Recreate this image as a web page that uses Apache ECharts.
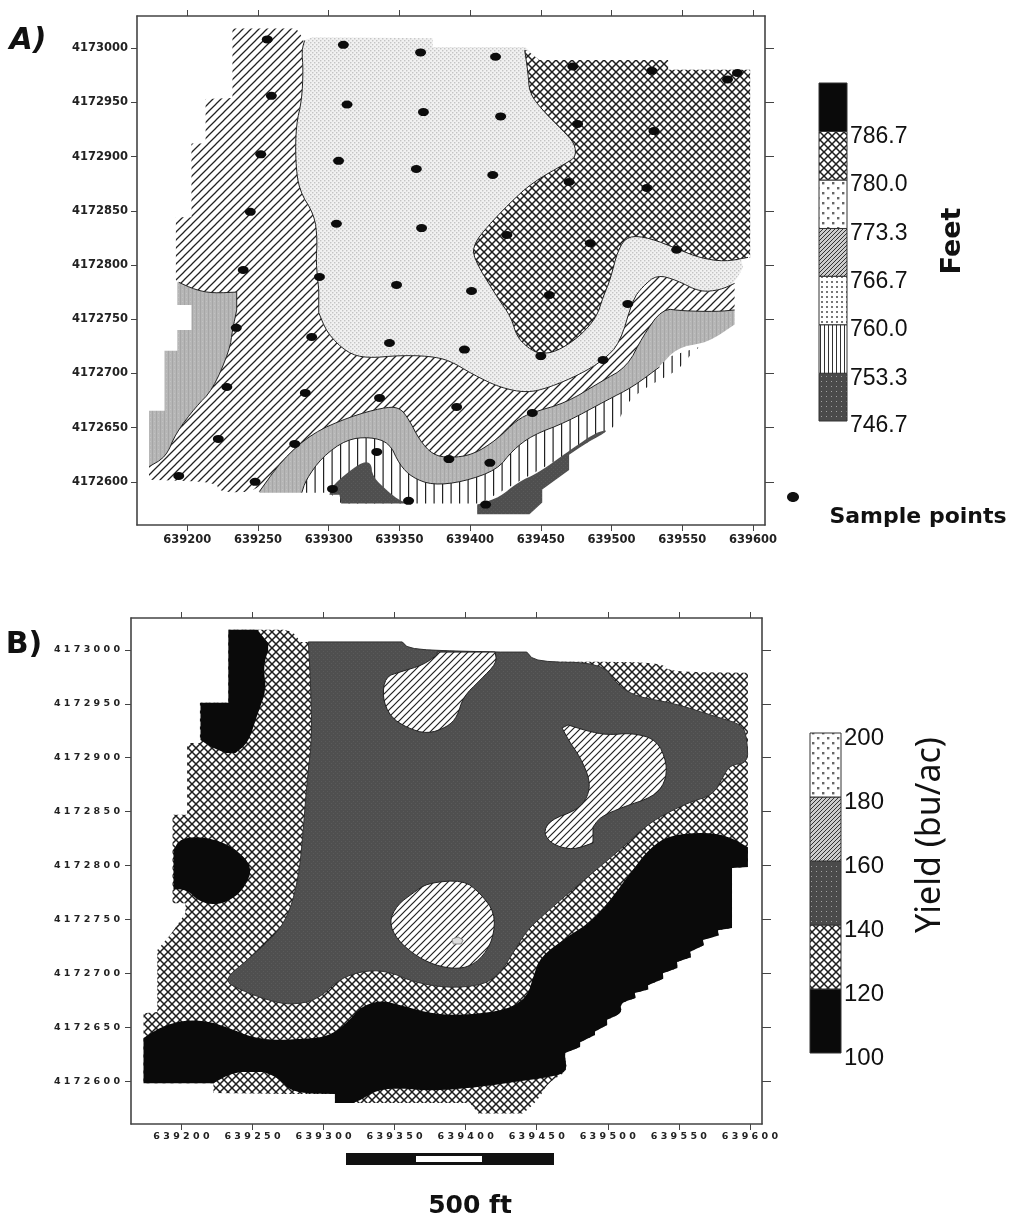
<!DOCTYPE html>
<html>
<head>
<meta charset="utf-8">
<style>html,body{margin:0;padding:0;background:#fff}#c{width:1011px;height:1218px}</style>
<script src="https://cdn.jsdelivr.net/npm/echarts@6/dist/echarts.min.js"></script>
</head>
<body>
<div id="c"></div>
<script>
// ---- axis values (UTM metres); all outlines below are offsets from these bases
const EAST0 = 639000, NORTH0 = 4172000;
const eastTicks = [639200,639250,639300,639350,639400,639450,639500,639550,639600];
const northTicks = [4172600,4172650,4172700,4172750,4172800,4172850,4172900,4172950,4173000];
const eastRange = [639164.5, 639608.5], northRange = [4172560.2, 4173029.6];

// ---- Panel A: elevation contours (easting, northing offsets)
const lineDots = [[277,1018],[283,1007],[281,998],[282,980],[281,952],[277,929],[276.5,897],[279,869],[290,846],[292,823],[291,803],[293,777],[293,756],[299,737],[313,719],[327,714],[350,716.6],[371,716],[385.5,712],[402,699],[421,687],[440,682],[456,687],[477.5,699],[494,712],[506,728],[515,768],[522,780],[532,791],[546,786],[562.5,775],[577,777],[587,783]];
const lineCross = [[438.6,998],[441,977],[442,958.5],[451,943],[465.5,924],[474,912],[474.8,899.5],[468,894],[444,876],[428,857],[412,835],[403,820],[402,807],[419,770.5],[429,752],[433,734],[441,723.5],[449,718],[461,720],[477.5,734],[489.5,752],[494,770.5],[499,786],[504.5,814],[511.5,827],[527,825],[548,814],[562.5,806.5],[580,803],[596.5,807]];
const lineDiagBottom = [[251,591],[267,620],[288.5,645],[315,660],[338,668.4],[350,669],[357,657],[364,639],[373.5,625],[385.5,622],[402,625],[419,639],[433,657],[444,664],[468,673],[492,692],[511,706],[522,734],[536,760],[550.5,757.6],[574.5,757],[587,758.5]];
const lineLeftGray = [[194,784],[206,777],[218,774],[235,775],[235,758.5],[232,740],[230,721.5],[218,685],[206,669],[192,645],[185,623],[173,614]];
const lineGrayBottom = [[534,706],[515,687.5],[497,675.5],[468,655],[444,643],[430,629],[419,611],[395,600],[373.5,597],[359,604],[350,616],[343,636],[329,641.5],[312.5,639],[295.5,623],[284,602],[281,590]];
const diagLeftStairs = [[192,786],[192,844],[203,844],[203,912],[213,912],[213,953],[232,954],[232,1018]];
const diagBottomStairs = [[222.7,590],[220.5,600],[173,602]];
const dotsEnvelope = [[596.5,807],[527,952],[463,970],[439,1001],[373.5,1001],[373.5,1009],[288.5,1010]];
const crossEnvelope = [[598,807],[598,980],[540,980],[540,989],[449,989],[440,998]];
const grayLeftStairs = [[173,665.5],[184,665.5],[184,721],[193,721],[193,740],[203,740],[203,763],[193,763],[193,784]];
const grayRightEnd = [[587,745],[574.5,734],[565,728],[546,723.5]];
const verticalOutline = [[281,590],[300.5,590],[309,580],[395,580],[407,580],[499,648],[504.5,655],[511,673],[522,685],[534,694],[547,703],[559,722],[565,726],[492,694],[350,655],[307.6,648],[276,620]];
const darkWest = [[302.7,597],[322,617.5],[330,618.5],[331,604.5],[343,590],[350,583],[357,580],[309,580],[307.6,588],[300.5,588]];
const darkEast = [[405,579],[405,570],[442,570],[451,581],[451,593],[470,611],[470,625],[482.5,636],[499,648],[489.5,646],[472.6,631],[463,622],[449,609],[433,599],[421,586],[409,580.6]];
const samplePoints = [[256.6,1008],[310.4,1003],[365,996],[418,992],[472.6,983],[528.5,979],[582,971],[589,977],
 [259.5,956],[313,948],[367,941],[421.6,937],[476,930],[530,923.5],
 [252,902],[307,896],[362,888.5],[416,883],[470,876.5],[525,871],
 [244.6,849],[305.5,838],[365.7,834],[426,827.6],[485,820],[546,814],
 [239.6,795.4],[293.5,789],[348,781.6],[401,776],[456,772.3],[511.5,764],
 [234.7,742],[288,733.6],[343,728],[396,722],[450,716],[494,712.4],
 [228,687.5],[283.5,682],[336,677.4],[390.5,669],[444,663.6],
 [222,639.6],[276,635],[334,627.6],[385,621],[414,617.5],
 [194,605.5],[248,600],[302.7,593.5],[356.5,582.5],[411,579]];

// ---- Panel B: yield zones
const sawEdge = [[587.4,742],[577.5,740],[578,735],[567,731],[567.5,726],[558,720],[558.5,715],[548.7,710.5],[549,705],[538.8,700],[539,695],[528.3,689],[528.5,685],[519,681.7],[519.5,677],[508.6,672.4],[510,663],[499.5,657],[499.5,652],[491,646],[491,642.7],[480.5,636],[480.5,631.6],[470,626],[470,622],[471.4,608.4]];
const yieldEnvelopeTop = [[233,1018.6],[271.7,1018.6],[278.7,1016.7],[283.7,1007.4],[355.4,1007.4],[361,1000],[423,998],[443,998],[449,989],[494.6,989],[539,988],[542.4,979.6],[598.6,978.7],[598.6,798.6],[587.4,797.7]];
const yieldEnvelopeBottom = [[458,599],[451,582.4],[440.4,570],[408.8,570],[405.3,576],[403,579.6],[325.8,579.6],[308,579.6],[308,588],[276.6,588],[222.5,589],[222.5,598],[173.3,598],[173.3,663],[183,664],[183,721.6],[193.7,738],[202.8,756],[202.8,765],[193.7,765],[193.7,847],[204,847],[204,913.7],[213,913.7],[213,951],[233,951]];
const yieldMidZone = [[289.3,1007.4],[290.7,975],[292,919.3],[288.6,882],[285,821],[282.3,789.3],[276.6,758.7],[267.5,737.4],[246.4,712.3],[229.5,693.8],[241.5,684.5],[260.5,675.2],[276.6,670.6],[295.6,675.2],[311.8,695.6],[330.8,703],[347,701.2],[363,692],[387,686.3],[412.3,689],[424.3,700.3],[433.4,719],[443.2,740.2],[457.3,757],[468.5,770],[487.5,791.2],[510.7,817],[529.7,840.4],[555.7,858],[574,865.4],[581,882],[586,893.3],[598.6,895],[598,916.5],[595,930.4],[576.8,937.8],[545.9,950.8],[520.6,956.4],[506.5,967.5],[496,988],[449,989],[443,998],[424.3,998],[361,1000],[355.4,1007.4]];
const islandNorth = [[380,998],[420.7,998],[422,988],[410.2,972],[398.2,956.4],[394,937.8],[387,928.5],[373,922],[358.9,927.6],[347,937.8],[341.4,955.5],[343.4,975],[354,979.6],[370,986],[380,995.4]];
const islandEast = [[467.8,927.6],[472,930.4],[485.4,924.8],[499.5,921],[517.8,923],[534.6,916.5],[541.7,895],[540.3,876.6],[531.8,863.6],[510.7,854.3],[494.6,845],[489.6,835.7],[489.6,821],[475.6,814.4],[461.5,819],[454.5,830],[459.4,842.2],[478.4,851.5],[486,863.6],[487.5,879.4],[480.5,900.7],[473.5,913.7]];
const islandSouth = [[373,783.8],[398.2,786.6],[410.2,774.5],[420.7,756],[419.3,731],[410.2,712.3],[398.2,704],[382,705.8],[366,715],[351.8,731],[346,747.6],[351.8,763.4],[363,774.5]];
const islandHole = [[390.5,731.8],[394.7,733.7],[398.2,730.9],[396.8,727.2],[391.2,727.2]];
const blackNorth = [[233,1018.6],[253.4,1018.6],[261,1006.5],[261,1000],[257.6,984],[259.8,963],[253.4,940],[247,913.7],[238,904.4],[231,904.4],[220.4,910],[213.4,916.5],[213.4,951],[233,951]];
const blackWest = [[194.4,814.4],[199.3,825.5],[218.3,826.5],[236.6,817.2],[250.6,798.6],[243.6,777.3],[232.3,766],[220.4,763.4],[211.2,768],[204.2,777.3],[194.4,778.2]];
const blackBandTop = [[173.3,640],[185.2,650],[201.4,656.6],[218.3,655.7],[232.3,650],[248.5,641],[264.7,638],[283.7,639],[302.6,641],[316.7,654],[325.8,668.7],[340,675],[354,670.6],[377,662],[401,661.3],[429.2,666],[443.2,678],[447.5,696.5],[452.4,715],[471.4,733.7],[489.6,749.4],[503,770],[515.7,793],[529.7,816.3],[543.8,828.3],[569.8,831],[586,826.5],[598.6,817],[598.6,798.6],[587.4,797.7]];
const blackBandBottom = [[459.4,603.7],[433.4,599],[410.2,594.5],[377,590.8],[354,593.5],[337.8,591.7],[325.8,582.4],[321,579.6],[308,579.6],[308,588],[278,589],[267.5,603.7],[257.6,608.4],[241.5,608.4],[232.3,605.6],[222.5,598],[173.3,598]];

// ---- legends
const feetBreaks = [746.7,753.3,760.0,766.7,773.3,780.0,786.7,793.4];
const feetLabels = [746.7,753.3,760.0,766.7,773.3,780.0,786.7];
const yieldBreaks = [100,120,140,160,180,200];

// ---- hatch fills
function tile(w,h,draw){const c=document.createElement('canvas');c.width=w;c.height=h;const g=c.getContext('2d');draw(g,w,h);return {image:c,repeat:'repeat'};}
function hatchUp(g,s){g.beginPath();g.moveTo(-1,1);g.lineTo(1,-1);g.moveTo(0,s);g.lineTo(s,0);g.moveTo(s-1,s+1);g.lineTo(s+1,s-1);g.stroke();}
function hatchDown(g,s){g.beginPath();g.moveTo(-1,s-1);g.lineTo(1,s+1);g.moveTo(0,0);g.lineTo(s,s);g.moveTo(s-1,-1);g.lineTo(s+1,1);g.stroke();}
const fillCross = tile(8,8,(g)=>{g.fillStyle='#fff';g.fillRect(0,0,8,8);g.strokeStyle='#1e1e1e';g.lineWidth=1.5;hatchUp(g,8);hatchDown(g,8);});
const fillDiag = tile(8,8,(g)=>{g.fillStyle='#fff';g.fillRect(0,0,8,8);g.strokeStyle='#222';g.lineWidth=1.25;hatchUp(g,8);});
const fillDiagB = tile(7,7,(g)=>{g.fillStyle='#fff';g.fillRect(0,0,7,7);g.strokeStyle='#222';g.lineWidth=1.2;hatchUp(g,7);});
const fillLight = tile(4,4,(g)=>{g.fillStyle='#f1f1f1';g.fillRect(0,0,4,4);g.fillStyle='#c4c4c4';g.fillRect(0,0,1.4,1.4);g.fillRect(2,2,1.4,1.4);});
const fillGray = tile(4,4,(g)=>{g.fillStyle='#b6b6b6';g.fillRect(0,0,4,4);g.fillStyle='#a6a6a6';g.fillRect(0,0,1,4);g.fillStyle='#c2c2c2';g.fillRect(2,1,1,1);});
const fillVert = tile(17,4,(g)=>{g.fillStyle='#fff';g.fillRect(0,0,17,4);g.fillStyle='#222';g.fillRect(0,0,1.2,4);g.fillRect(8.5,0,1.2,4);});
const fillDark = tile(4,4,(g)=>{g.fillStyle='#4f4f4f';g.fillRect(0,0,4,4);g.fillStyle='#5a5a5a';g.fillRect(1,1,1,1);g.fillRect(3,3,1,1);});
const fillBlack = '#0a0a0a';
const legSparse = tile(10,10,(g)=>{g.fillStyle='#fff';g.fillRect(0,0,10,10);g.fillStyle='#666';g.fillRect(2,2,2.4,2.4);g.fillRect(7,7,2.4,2.4);});
const legDiag = tile(4,4,(g)=>{g.fillStyle='#ccc';g.fillRect(0,0,4,4);g.strokeStyle='#333';g.lineWidth=1;hatchUp(g,4);});
const legDots = tile(5,5,(g)=>{g.fillStyle='#fff';g.fillRect(0,0,5,5);g.fillStyle='#777';g.fillRect(1,1,2,2);});
const legVert = tile(4,4,(g)=>{g.fillStyle='#fff';g.fillRect(0,0,4,4);g.fillStyle='#333';g.fillRect(0,0,1,4);});
const legDark = tile(5,5,(g)=>{g.fillStyle='#4a4a4a';g.fillRect(0,0,5,5);g.fillStyle='#a0a0a0';g.fillRect(1,1,1,1);});
const feetFills = [legDark,legVert,legDots,legDiag,legSparse,fillCross,fillBlack];
const yieldFills = [fillBlack,fillCross,legDark,legDiag,legSparse];

// ---- helpers
const AX_A = 0, AX_B = 2, AX_LEG_A = 4, AX_LEG_B = 5;
const toMap = pts => pts.map(p => [EAST0 + p[0], NORTH0 + p[1]]);
const rev = a => a.slice().reverse();
// rounds the drawn outline in screen space; stair steps and saw teeth stay sharp
function soften(raw, closed){
  const n = raw.length, near = (a,b)=>Math.hypot(a[0]-b[0],a[1]-b[1]);
  const aligned = (a,b)=>Math.abs(a[0]-b[0])<0.3||Math.abs(a[1]-b[1])<0.3;
  let pts = raw.map((p,i)=>{
    if(!closed&&(i===0||i===n-1)) return {p,s:true};
    const a=raw[(i-1+n)%n], b=raw[(i+1)%n];
    return {p,s:aligned(a,p)||aligned(p,b)||near(a,p)<9||near(p,b)<9};
  });
  for(let k=0;k<2;k++){
    const out=[], m=pts.length;
    pts.forEach((v,i)=>{
      if(v.s){out.push(v);return;}
      const a=pts[(i-1+m)%m].p, b=pts[(i+1)%m].p, p=v.p;
      out.push({p:[p[0]+(a[0]-p[0])*.25,p[1]+(a[1]-p[1])*.25],s:false});
      out.push({p:[p[0]+(b[0]-p[0])*.25,p[1]+(b[1]-p[1])*.25],s:false});
    });
    pts=out;
  }
  return pts.map(v=>v.p);
}
function poly(pts, ax, fill, stroke){
  const d = toMap(pts);
  return {type:'custom', xAxisIndex:ax, yAxisIndex:ax, data:d, encode:{x:0,y:1}, silent:true, animation:false,
    renderItem:(p,api)=> p.dataIndex!==0 ? null : {type:'polygon', shape:{points:soften(d.map(q=>api.coord(q)),true)},
      style:{fill:fill, stroke:stroke||null, lineWidth:stroke?1:0}}};
}
function contour(pts, ax){
  const d = toMap(pts);
  return {type:'custom', xAxisIndex:ax, yAxisIndex:ax, data:d, encode:{x:0,y:1}, silent:true, animation:false,
    renderItem:(p,api)=> p.dataIndex!==0 ? null : {type:'polyline', shape:{points:soften(d.map(q=>api.coord(q)),false)},
      style:{fill:null, stroke:'#222', lineWidth:1}}};
}
function legendBands(breaks, fills, ax){
  const d = fills.map((f,i)=>[breaks[i],breaks[i+1],i]);
  return {type:'custom', xAxisIndex:ax, yAxisIndex:ax, data:d, encode:{y:[0,1]}, silent:true, animation:false,
    renderItem:(p,api)=>{
      const a=api.coord([0,api.value(1)]), b=api.coord([1,api.value(0)]);
      return {type:'rect', shape:{x:a[0],y:a[1],width:b[0]-a[0],height:b[1]-a[1]},
        style:{fill:fills[api.value(2)], stroke:'#333', lineWidth:1}};
    }};
}
const tickFont = {fontFamily:'DejaVu Sans', fontWeight:'bold', fontSize:11.5, color:'#222', formatter:v=>String(v)};
const spaced = v => String(v).split('').join(' ');
const tickFontB = {fontFamily:'DejaVu Sans', fontWeight:'bold', fontSize:9.5, color:'#222', formatter:spaced};
const line = {show:true, onZero:false, lineStyle:{color:'#444', width:1.6}};
function xPair(g, font, margin){
  return [
    {type:'value', gridIndex:g, position:'bottom', min:eastRange[0], max:eastRange[1], axisLine:line, splitLine:{show:false},
      axisTick:{show:true, length:6, customValues:eastTicks, lineStyle:{color:'#444'}},
      axisLabel:Object.assign({show:true, margin:margin, customValues:eastTicks, hideOverlap:false}, font)},
    {type:'value', gridIndex:g, position:'top', min:eastRange[0], max:eastRange[1], axisLine:line, splitLine:{show:false},
      axisTick:{show:true, length:6, customValues:eastTicks, lineStyle:{color:'#444'}}, axisLabel:{show:false}}
  ];
}
function yPair(g, font, margin){
  return [
    {type:'value', gridIndex:g, position:'left', min:northRange[0], max:northRange[1], axisLine:line, splitLine:{show:false},
      axisTick:{show:true, length:6, customValues:northTicks, lineStyle:{color:'#444'}},
      axisLabel:Object.assign({show:true, margin:margin, customValues:northTicks}, font)},
    {type:'value', gridIndex:g, position:'right', min:northRange[0], max:northRange[1], axisLine:line, splitLine:{show:false},
      axisTick:{show:true, length:9, customValues:northTicks, lineStyle:{color:'#444'}}, axisLabel:{show:false}}
  ];
}
// axes: 0 A-bottom/left, 1 A-top/right, 2 B-bottom/left, 3 B-top/right, 4 legend A, 5 legend B
const xs = [...xPair(0,tickFont,9), ...xPair(1,tickFontB,8),
  {type:'value',gridIndex:2,min:0,max:1,show:false},
  {type:'value',gridIndex:3,min:0,max:1,show:false}];
const ys = [...yPair(0,tickFont,9), ...yPair(1,tickFontB,11),
  {type:'value',gridIndex:2,position:'right',min:746.7,max:793.4,axisLine:{show:false},axisTick:{show:false},splitLine:{show:false},
    axisLabel:{show:true,customValues:feetLabels,margin:3,verticalAlign:'top',lineHeight:10,formatter:v=>v.toFixed(1),fontFamily:'Liberation Sans',fontSize:23,color:'#111'}},
  {type:'value',gridIndex:3,position:'right',min:100,max:200,axisLine:{show:false},axisTick:{show:false},splitLine:{show:false},
    axisLabel:{show:true,customValues:yieldBreaks,margin:3,verticalAlign:'top',lineHeight:10,fontFamily:'Liberation Sans',fontSize:24,color:'#111'}}];

const series = [
  // Panel A, painted lowest contour band first
  poly(verticalOutline,AX_A,fillVert),
  poly(darkWest,AX_A,fillDark), poly(darkEast,AX_A,fillDark),
  poly(lineLeftGray.concat(grayLeftStairs),AX_A,fillGray),
  poly(lineDiagBottom.concat(grayRightEnd,lineGrayBottom,[[251,590]]),AX_A,fillGray),
  poly([[232,1018]].concat(lineDots,[[587,758.5]],rev(lineDiagBottom),diagBottomStairs,rev(lineLeftGray),diagLeftStairs),AX_A,fillDiag),
  poly(lineDots.slice(1).concat(dotsEnvelope),AX_A,fillLight),
  poly(lineCross.concat(crossEnvelope),AX_A,fillCross),
  contour(lineDots.slice(1),AX_A), contour(lineCross,AX_A), contour(lineDiagBottom,AX_A), contour(lineLeftGray,AX_A), contour(lineGrayBottom,AX_A),
  {type:'scatter', name:'Sample points', xAxisIndex:AX_A, yAxisIndex:AX_A, data:toMap(samplePoints), symbol:'circle', symbolSize:[11,8], itemStyle:{color:'#0c0c0c',opacity:1}, silent:true, animation:false, z:5},
  // Panel B
  poly(yieldEnvelopeTop.concat(sawEdge,yieldEnvelopeBottom),AX_B,fillCross),
  poly(yieldMidZone,AX_B,fillDark,'#333'),
  poly(islandNorth,AX_B,fillDiagB,'#222'), poly(islandEast,AX_B,fillDiagB,'#222'), poly(islandSouth,AX_B,fillDiagB,'#222'),
  poly(islandHole,AX_B,'#ddd','#888'),
  poly(blackNorth,AX_B,fillBlack), poly(blackWest,AX_B,fillBlack),
  poly(blackBandTop.concat(sawEdge,blackBandBottom),AX_B,fillBlack),
  // legends
  legendBands(feetBreaks,feetFills,AX_LEG_A),
  legendBands(yieldBreaks,yieldFills,AX_LEG_B)
];

const label = (x,y,text,font,rot,extra) => Object.assign({type:'text',x:x,y:y,rotation:rot||0,silent:true,
  style:{text:text,font:font,fill:'#111',align:'center',verticalAlign:'middle'}},extra||{});
const graphic = [
  label(28,41,'A)','italic bold 30px "DejaVu Sans"'),
  label(24,645,'B)','bold 30px "DejaVu Sans"'),
  label(953,241,'Feet','bold 27px "DejaVu Sans"',Math.PI/2),
  label(918,517,'Sample points','bold 22px "DejaVu Sans"'),
  label(930,835,'Yield (bu/ac)','34px "Noto Sans"',Math.PI/2),
  label(470,1206,'500 ft','bold 25px "DejaVu Sans"'),
  {type:'group',silent:true,children:[
    {type:'ellipse',shape:{cx:793,cy:497,rx:6,ry:5},style:{fill:'#111'}},
    {type:'rect',shape:{x:346,y:1153,width:208,height:12},style:{fill:'#111'}},
    {type:'rect',shape:{x:416,y:1156,width:66,height:6},style:{fill:'#fff'}}
  ]}
];

const chart = echarts.init(document.getElementById('c'), null, {renderer:'canvas'});
chart.setOption({
  backgroundColor:'#fff', animation:false,
  grid:[
    {left:137,top:16,width:628,height:509},
    {left:131,top:618,width:631,height:506},
    {left:819,top:83,width:28,height:338},
    {left:810,top:733,width:31,height:320}
  ],
  xAxis:xs, yAxis:ys, series:series, graphic:graphic
});
</script>
</body>
</html>
